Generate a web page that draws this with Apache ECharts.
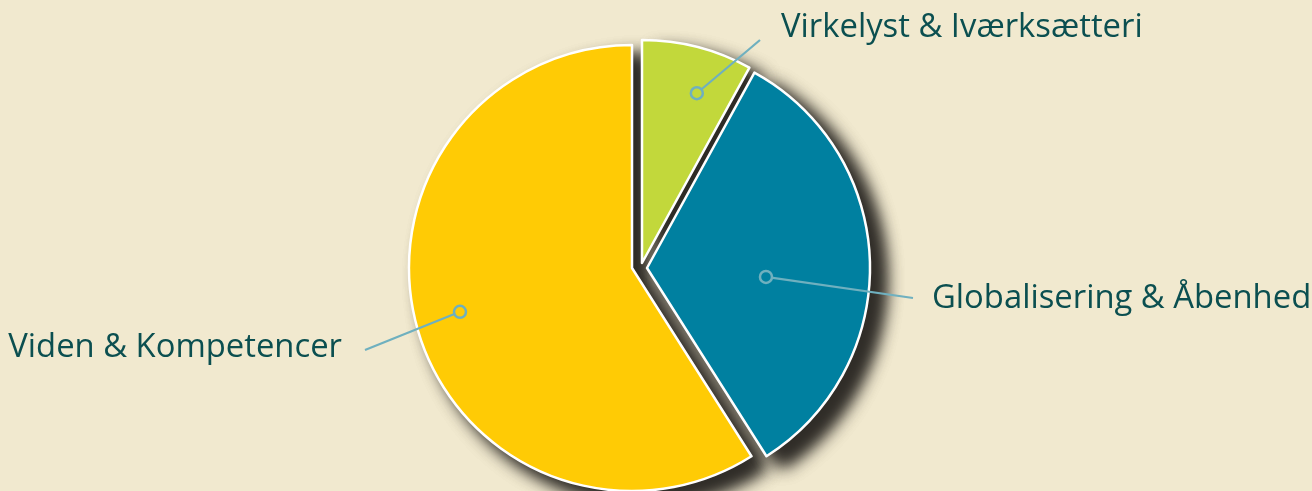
<!DOCTYPE html>
<html>
<head>
<meta charset="utf-8">
<script src="https://cdn.jsdelivr.net/npm/echarts@6/dist/echarts.min.js"></script>
<style>
html,body{margin:0;padding:0;background:#F1E9CF;}
#c{width:1312px;height:491px;}
</style>
</head>
<body>
<div id="c"></div>
<script>
// Data
const categories = ['Virkelyst & Iværksætteri', 'Globalisering & Åbenhed', 'Viden & Kompetencer'];
const values = [8, 33, 59];
const colors = ['#C2D83B', '#0080A0', '#FFCB05'];

// Layout (pixels / degrees)
const R = 223;
const centers = [[642, 263], [647, 268], [632, 268]];
const anchorFrac = [0.8, 0.535, 0.796];
const anchorShiftDeg = [3.5, 6.1, 1.9];
const labelCfg = [
  { x: 781, y: 28, align: 'left', end: [760, 40] },
  { x: 932, y: 299, align: 'left', end: [913, 298] },
  { x: 342, y: 348, align: 'right', end: [365, 350] }
];
const drawOrder = [2, 0, 1];
const lineColor = '#6FB0BF';
const textColor = '#0B4F50';
const bg = '#F1E9CF';

const total = values.reduce((a, b) => a + b, 0);
const mids = values.map((v, i) => values.slice(0, i).reduce((a, b) => a + b, 0) + v / 2);
const anchorVals = mids.map((m, i) => m + anchorShiftDeg[i] / 360 * total);

const chart = echarts.init(document.getElementById('c'), null, { renderer: 'canvas' });

// layer: 0 = shadow, 1 = slice, 2 = label + leader line (transparent sectors)
function pieLayer(k, order, layer, pass) {
  const data = values.map((v, i) => {
    const it = { value: v, name: categories[i], labelLine: { show: false }, label: { show: false } };
    if (i === k && layer === 0) {
      it.itemStyle = { color: colors[i], borderWidth: 0, shadowBlur: 18, shadowOffsetX: 14, shadowOffsetY: 11, shadowColor: 'rgba(48,45,40,1)' };
    } else if (i === k && layer === 1) {
      it.itemStyle = { color: colors[i], borderColor: '#ffffff', borderWidth: 2.5, shadowBlur: 0 };
    } else {
      it.itemStyle = { color: 'rgba(0,0,0,0)', borderWidth: 0, shadowBlur: 0 };
      if (i === k && layer === 2) {
        it.label = { show: true };
        it.labelLine = { show: true };
      }
    }
    return it;
  });
  return {
    type: 'pie',
    center: centers[k],
    radius: R,
    startAngle: 90,
    clockwise: true,
    avoidLabelOverlap: false,
    silent: true,
    z: [1, 3, 5][layer] + order * 0.1 + (pass || 0) * 0.01,
    label: {
      show: layer === 2, position: 'outside', color: textColor,
      fontFamily: 'Open Sans', fontSize: 32.8
    },
    labelLine: { show: layer === 2, lineStyle: { color: lineColor, width: 2.2 } },
    labelLayout: function (p) {
      if (layer !== 2 || p.dataIndex !== k) return {};
      const ang = (90 - anchorVals[k] / total * 360) * Math.PI / 180;
      const sx = centers[k][0] + anchorFrac[k] * R * Math.cos(ang);
      const sy = centers[k][1] - anchorFrac[k] * R * Math.sin(ang);
      return {
        x: labelCfg[k].x, y: labelCfg[k].y, align: labelCfg[k].align, verticalAlign: 'middle',
        labelLinePoints: [[sx, sy], labelCfg[k].end]
      };
    },
    data: data
  };
}

const series = [];
[0, 1].forEach(pass => drawOrder.forEach((k, order) => series.push(pieLayer(k, order, 0, pass))));
[1, 2].forEach(layer => drawOrder.forEach((k, order) => series.push(pieLayer(k, order, layer))));

// hollow markers in polar coordinates matching each slice
const polar = centers.map(c => ({ center: c, radius: R }));
const angleAxis = centers.map((c, i) => ({ polarIndex: i, type: 'value', min: 0, max: total, startAngle: 90, clockwise: true, show: false }));
const radiusAxis = centers.map((c, i) => ({ polarIndex: i, type: 'value', min: 0, max: 1, show: false }));
values.forEach((v, i) => {
  series.push({
    type: 'scatter', coordinateSystem: 'polar', polarIndex: i, z: 10, silent: true,
    symbol: 'circle', symbolSize: 12,
    itemStyle: { color: colors[i], borderColor: lineColor, borderWidth: 2.5, opacity: 1 },
    data: [[anchorFrac[i], anchorVals[i]]]
  });
});

chart.setOption({
  backgroundColor: bg,
  animation: false,
  polar: polar,
  angleAxis: angleAxis,
  radiusAxis: radiusAxis,
  series: series
});
</script>
</body>
</html>
